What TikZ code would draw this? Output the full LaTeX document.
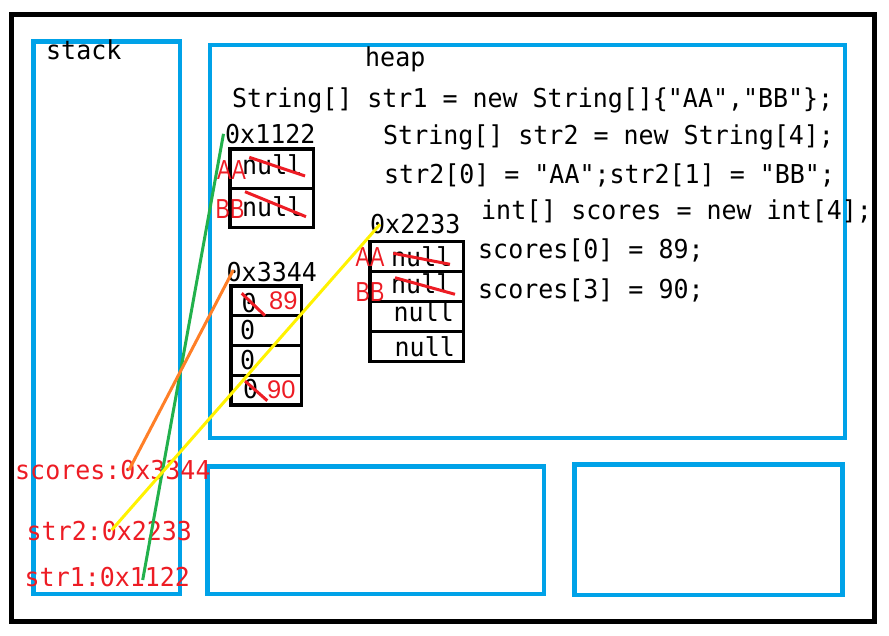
\documentclass[tikz,border=0pt]{standalone}
\usepackage{fontspec}
\usepackage{tikz}
\usetikzlibrary{positioning}

\newfontfamily\codefont[FakeStretch=0.96]{DejaVu Sans Mono}
\newfontfamily\markfont[FakeStretch=0.78]{Liberation Sans}
\newfontfamily\numfont{Liberation Sans}

\definecolor{boxblue}{HTML}{00A2E8}
\definecolor{markred}{HTML}{ED1C24}
\definecolor{linkgreen}{HTML}{22B14C}
\definecolor{linkorange}{HTML}{FF7F27}
\definecolor{linkyellow}{HTML}{FFF200}

\tikzset{
	code/.style={draw=none,fill=none,inner sep=0pt,anchor=base west,font=\codefont\fontsize{26}{26}\selectfont},
	redcode/.style={code,text=markred},
	redmark/.style={draw=none,fill=none,inner sep=0pt,anchor=base west,text=markred,font=\markfont\fontsize{27.5}{27.5}\selectfont},
	rednum/.style={draw=none,fill=none,inner sep=0pt,anchor=base west,text=markred,font=\numfont\fontsize{25.5}{25.5}\selectfont},
	area/.style={draw=boxblue,line width=4.7pt,inner sep=0pt,outer sep=0pt},
	cell/.style={draw=black,line width=3.3pt,inner sep=0pt,outer sep=0pt},
	strike/.style={draw=markred,line width=3pt},
	link/.style={line width=3pt}
}

\begin{document}
\begin{tikzpicture}[x=1pt,y=-1pt]
			\useasboundingbox (0,0) rectangle (889,636);
			\node[draw=black,line width=5pt,inner sep=0pt,minimum width=862.5pt,minimum height=606.5pt] (frame) at (442.8,317.8) {};

			% memory areas
			\node[area,minimum width=146.7pt,minimum height=552.3pt] (stack) at (106.7,317.9) {};
			\node[area,minimum width=635pt,minimum height=393pt]     (heap)  at (527.5,241.5) {};
			\node[area,minimum width=336.5pt,minimum height=127.5pt] (areaA) at (375.8,530.3) {};
			\node[area,minimum width=268pt,minimum height=130.5pt]   (areaB) at (708.5,529.8) {};

			\node[code] (stacktxt) at (46,60)  {stack};
			\node[code] (heaptxt)  at (365,67) {heap};

			% source lines
			\node[code] (line1) at (232,107.5) {String[] str1 = new String[]\{"AA","BB"\};};
			\node[code] (line2) at (383,144.5) {String[] str2 = new String[4];};
			\node[code] (line3) at (384,183.5) {str2[0] = "AA";str2[1] = "BB";};
			\node[code] (line4) at (481,219.3) {int[] scores = new int[4];};
			\node[code] (line5) at (478,258.3) {scores[0] = 89;};
			\node[code] (line6) at (478,298.3) {scores[3] = 90;};

			% str1 array
			\node[code] (ref1) at (225,143.3) {0x1122};
			\node[cell,minimum width=83.3pt,minimum height=39.35pt] (a1) at (271.7,168.7) {};
			\node[cell,minimum width=83.3pt,minimum height=39.35pt,below=0pt of a1] (a2) {};
			\node[code] (a1v) at (242,175)   {null};
			\node[code] (a2v) at (242,216.7) {null};
			\node[redmark] (a1m) at (217,179.3)   {AA};
			\node[redmark] (a2m) at (215.5,218.3) {BB};
			\draw[strike] (249.3,157.3) -- (305,176);
			\draw[strike] (245,191.7) -- (306,216.7);

			% scores array
			\node[code] (ref3) at (226.5,281.7) {0x3344};
			\node[cell,minimum width=70.7pt,minimum height=29.75pt] (c1) at (266.3,300.9) {};
			\node[cell,minimum width=70.7pt,minimum height=29.75pt,below=0pt of c1] (c2) {};
			\node[cell,minimum width=70.7pt,minimum height=29.75pt,below=0pt of c2] (c3) {};
			\node[cell,minimum width=70.7pt,minimum height=29.75pt,below=0pt of c3] (c4) {};
			\node[code] (c1v) at (241.5,313) {0};
			\node[code] (c2v) at (240,340)   {0};
			\node[code] (c3v) at (240,370)   {0};
			\node[code] (c4v) at (243,398)   {0};
			\draw[strike] (241.7,293.3) -- (265,315.7);
			\draw[strike] (245,381) -- (267.3,400.7);
			\node[rednum] (c1m) at (269,310)   {89};
			\node[rednum] (c4m) at (267,398.3) {90};

			% str2 array
			\node[code] (ref2) at (370,233.3) {0x2233};
			\node[cell,minimum width=93.3pt,minimum height=30pt] (b1) at (416.7,256.7) {};
			\node[cell,minimum width=93.3pt,minimum height=30pt,below=0pt of b1] (b2) {};
			\node[cell,minimum width=93.3pt,minimum height=30pt,below=0pt of b2] (b3) {};
			\node[cell,minimum width=93.3pt,minimum height=30pt,below=0pt of b3] (b4) {};
			\node[code] (b1v) at (391,266.7)   {null};
			\node[code] (b2v) at (391,293.3)   {null};
			\node[code] (b3v) at (393.5,321.7) {null};
			\node[code] (b4v) at (394.5,356.7) {null};
			\node[redmark] (b1m) at (355.5,266.7) {AA};
			\node[redmark] (b2m) at (355.5,301.7) {BB};
			\draw[strike] (393.3,253.3) -- (450,264.3);
			\draw[strike] (395,277.7) -- (455,294.3);

			% stack variables
			\node[redcode] (var3) at (15,479.3)   {scores:0x3344};
			\node[redcode] (var2) at (26.5,540)   {str2:0x2233};
			\node[redcode] (var1) at (24.5,586.5) {str1:0x1122};
			\coordinate (p1) at (142.7,580);
			\coordinate (p2) at (111.7,530);
			\coordinate (p3) at (129,470);

			\draw[link,linkgreen]  (p1) -- ([xshift=-1.5pt]ref1.west);
			\draw[link,linkorange] (p3) -- ([xshift=6.8pt,yshift=2.2pt]ref3.west);
			\draw[link,linkyellow] (p2) -- ([xshift=10pt,yshift=-0.5pt]ref2.west);
		\end{tikzpicture}
\end{document}
